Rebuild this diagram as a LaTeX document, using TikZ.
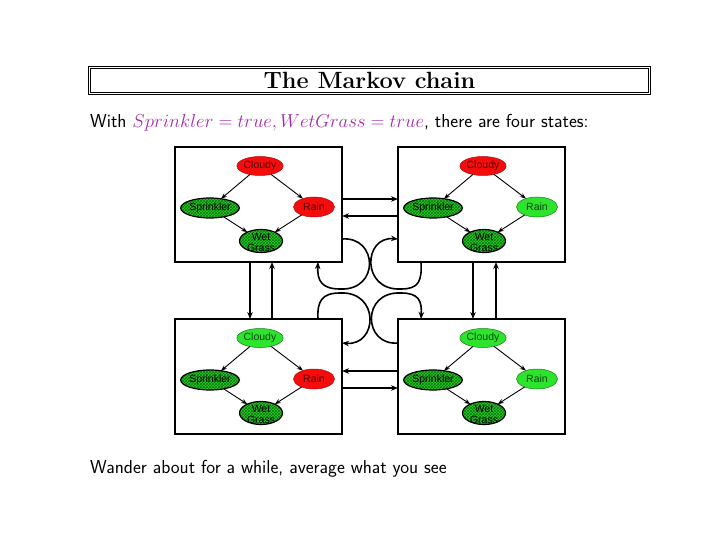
\RequirePackage{fix-cm}
\documentclass[tikz,border=0pt]{standalone}
\usepackage{fontspec}
\newfontfamily\helv{Liberation Sans}
\usetikzlibrary{arrows.meta,shapes.geometric,patterns,calc}
\definecolor{nred}{RGB}{245,12,12}
\definecolor{ngreen}{RGB}{45,228,45}
\definecolor{hgreen}{RGB}{45,205,45}
\definecolor{hatchc}{RGB}{10,120,10}
\definecolor{mathpurple}{RGB}{160,45,170}
\tikzset{
  statebox/.style={draw, line width=1.6pt, minimum width=167pt, minimum height=115pt, inner sep=0pt, outer sep=0pt},
  var/.style={ellipse, inner sep=0pt, outer sep=0pt, font=\helv\fontsize{10.5}{11}\selectfont},
  redvar/.style={var, fill=nred, draw=nred!75!black, line width=0.5pt, text=nred!35!black},
  greenvar/.style={var, fill=ngreen, draw=ngreen!55!black, line width=0.5pt, text=ngreen!30!black},
  obsvar/.style={var, preaction={fill=hgreen}, pattern=crosshatch, pattern color=hatchc, draw=black, line width=1.2pt, text=black},
  netarrow/.style={-{Stealth[length=6pt,width=4.5pt]}, line width=0.9pt},
  bigarrow/.style={-{Stealth[length=7pt,width=5.5pt]}, line width=1.6pt},
  titlebox/.style={draw, double, double distance=1.5pt, line width=0.8pt, minimum width=560pt, minimum height=26pt, inner sep=0pt, font=\bfseries\fontsize{23.5}{26}\selectfont},
  bodytext/.style={anchor=base west, inner sep=0pt, font=\sffamily\fontsize{18.8}{22}\selectfont}
}
\newcommand\bnet[4]{%
  \node[statebox] (#1) at (#2) {};
  \node[#3, minimum width=43pt, minimum height=19pt] (#1c) at ($(#1)+(1.5,-38.5)$) {Cloudy};
  \node[obsvar, minimum width=54pt, minimum height=20pt] (#1s) at ($(#1)+(-48.5,3.5)$) {Sprinkler};
  \node[#4, minimum width=41pt, minimum height=20pt] (#1r) at ($(#1)+(55.5,2.5)$) {Rain};
  \node[obsvar, minimum width=43pt, minimum height=23pt] (#1w) at ($(#1)+(2.5,36.5)$) {\smash{\raisebox{-5pt}{\begin{tabular}{@{}c@{}}Wet\\Grass\end{tabular}}}};
  \draw[netarrow] (#1c) -- (#1s);
  \draw[netarrow] (#1c) -- (#1r);
  \draw[netarrow] (#1s) -- (#1w);
  \draw[netarrow] (#1r) -- (#1w);
}
\begin{document}
\begin{tikzpicture}[x=1pt,y=-1pt]
\useasboundingbox[fill=white] (0,0) rectangle (720,540);
\node[titlebox] (title) at (369.5,80.5) {The Markov chain};
\node[bodytext] (intro) at (90,128) {With \textcolor{mathpurple}{$Sprinkler=true, WetGrass=true$}, there are four states:};
\node[bodytext] (outro) at (90,473) {Wander about for a while, average what you see};

\bnet{tl}{258.5,204.5}{redvar}{redvar}
\bnet{tr}{481.5,204.5}{redvar}{greenvar}
\bnet{bl}{258.5,376.5}{greenvar}{redvar}
\bnet{br}{481.5,376.5}{greenvar}{greenvar}

% horizontal transitions
\draw[bigarrow] (tl.east |- 0,199) -- (tr.west |- 0,199);
\draw[bigarrow] (tr.west |- 0,216) -- (tl.east |- 0,216);
\draw[bigarrow] (br.west |- 0,371) -- (bl.east |- 0,371);
\draw[bigarrow] (bl.east |- 0,388) -- (br.west |- 0,388);
% vertical transitions
\draw[bigarrow] (tl.south -| 250,0) -- (bl.north -| 250,0);
\draw[bigarrow] (bl.north -| 272,0) -- (tl.south -| 272,0);
\draw[bigarrow] (tr.south -| 473,0) -- (br.north -| 473,0);
\draw[bigarrow] (br.north -| 496,0) -- (tr.south -| 496,0);
% self loops
\draw[bigarrow] (tl.east |- 0,239) .. controls (378,236) and (380,291) .. (340,289) .. controls (322,289) and (317,281) .. (tl.south -| 318,0);
\draw[bigarrow] (tr.south -| 421,0) .. controls (422,281) and (419,289) .. (401,289) .. controls (361,291) and (363,236) .. (tr.west |- 0,239);
\draw[bigarrow] (bl.north -| 318,0) .. controls (317,301) and (322,293) .. (340,293) .. controls (380,291) and (378,346) .. (bl.east |- 0,343);
\draw[bigarrow] (br.west |- 0,343) .. controls (363,346) and (361,291) .. (401,293) .. controls (419,293) and (422,301) .. (br.north -| 421,0);
\end{tikzpicture}
\end{document}
